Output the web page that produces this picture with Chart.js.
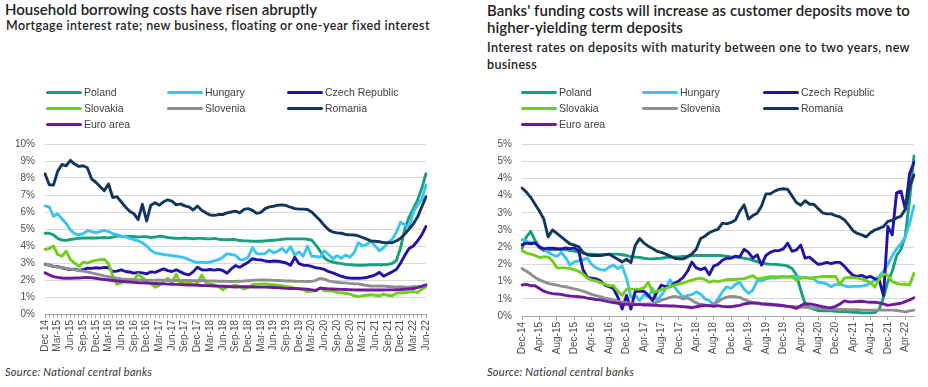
<!DOCTYPE html>
<html><head><meta charset="utf-8">
<script src="https://cdn.jsdelivr.net/npm/chart.js@4.4.1/dist/chart.umd.min.js"></script>
<style>
html,body{margin:0;padding:0;background:#fff;}
#root{position:relative;width:928px;height:387px;overflow:hidden;font-family:Lato,"Open Sans",sans-serif;color:#222;}
.t{position:absolute;white-space:nowrap;}
.t span{display:inline-block;}
.title{font-size:15px;font-weight:600;line-height:17px;}
.sub{font-size:12.5px;font-weight:600;line-height:17.7px;}
.src{font-size:11px;font-style:italic;line-height:13px;color:#333;}
.leg{position:absolute;font-family:"Liberation Sans",Arial,sans-serif;font-size:10.5px;color:#404040;line-height:12px;height:12px;white-space:nowrap;}
.leg i{position:absolute;left:0;top:4.5px;width:36px;height:3px;border-radius:2px;}
.leg span{position:absolute;left:38px;top:0;}
canvas{position:absolute;}
</style></head>
<body><div id="root">
<div class="t title" style="left:5px;top:1px;"><span data-w="312">Household borrowing costs have risen abruptly</span></div>
<div class="t sub" style="left:6px;top:16.6px;"><span data-w="424">Mortgage interest rate; new business, floating or one-year fixed interest</span></div>
<div class="t title" style="left:487px;top:2.4px;"><span data-w="423">Banks' funding costs will increase as customer deposits move to</span><br><span data-w="196">higher-yielding term deposits</span></div>
<div class="t sub" style="left:487px;top:38.6px;"><span data-w="423">Interest rates on deposits with maturity between one to two years, new</span><br><span data-w="50">business</span></div>
<div class="t src" style="left:5px;top:365px;"><span data-w="147">Source: National central banks</span></div>
<div class="t src" style="left:487px;top:365px;"><span data-w="147">Source: National central banks</span></div>
<canvas id="cL" width="440" height="232" style="left:0px;top:128px;"></canvas>
<canvas id="cR" width="464" height="232" style="left:464px;top:128px;"></canvas>
</div>
<script>
// ---------- DATA ----------
const seriesNames = ['Poland','Hungary','Czech Republic','Slovakia','Slovenia','Romania','Euro area'];
const seriesColors = ['#17a07e','#3cc3ef','#2213a8','#6fcf1a','#8f8f8f','#12365e','#6f1a9e'];

const MONTHS = ['Jan','Feb','Mar','Apr','May','Jun','Jul','Aug','Sep','Oct','Nov','Dec'];
function monthLabels(sep){const out=[];for(let i=0;i<91;i++){const mi=(11+i)%12;const yr=14+Math.floor((11+i)/12);out.push(MONTHS[mi]+sep+yr);}return out;}
const leftLabels = monthLabels('-'); leftLabels[0] = 'Dec 14';
const rightLabels = monthLabels('-');

const leftYTicks = [0,1,2,3,4,5,6,7,8,9,10];
const rightYTicks = [0,0.5,1,1.5,2,2.5,3,3.5,4,4.5,5];

// Left chart: mortgage interest rate (%)
const leftPoland = [4.75,4.75,4.65,4.45,4.35,4.33,4.38,4.42,4.45,4.47,4.47,4.48,4.47,4.48,4.5,4.48,4.52,4.6,4.57,4.55,4.57,4.55,4.52,4.55,4.55,4.5,4.53,4.58,4.55,4.5,4.47,4.45,4.45,4.47,4.45,4.43,4.45,4.45,4.43,4.42,4.45,4.4,4.38,4.37,4.38,4.38,
4.32,4.3,4.3,4.28,4.28,4.28,4.3,4.32,4.34,4.36,4.4,4.42,4.42,4.42,4.42,4.42,4.4,4.34,4.05,3.7,3.3,3.12,3.06,3.0,2.96,2.92,2.9,2.88,2.87,2.87,2.88,2.9,2.9,2.9,2.9,2.92,2.97,3.15,3.9,5.0,5.7,6.2,6.7,7.4,8.25];
const leftHungary = [6.36,6.3,5.75,5.89,5.6,5.32,4.95,4.72,4.66,4.72,4.9,4.85,4.78,4.85,4.92,4.85,4.72,4.66,4.6,4.55,4.45,4.38,4.3,4.19,4.0,3.75,3.6,3.55,3.5,3.47,3.43,3.4,3.36,3.3,3.2,3.1,3.03,3.05,3.02,3.06,3.12,3.2,3.34,3.55,3.5,3.45,
3.2,3.2,3.34,3.9,3.55,3.53,3.55,3.77,3.6,3.7,3.85,3.62,3.96,3.47,3.66,3.4,4.0,3.4,3.38,3.34,3.72,3.5,3.25,3.43,3.28,3.47,3.34,3.6,4.19,4.0,4.1,4.28,4.0,3.72,3.9,4.2,4.4,4.8,5.4,5.25,5.1,6.0,6.4,6.75,7.6];
const leftCzech = [2.92,2.88,2.8,2.78,2.72,2.66,2.62,2.64,2.56,2.6,2.7,2.68,2.72,2.7,2.74,2.72,2.5,2.52,2.6,2.5,2.47,2.4,2.45,2.42,2.36,2.48,2.45,2.55,2.65,2.55,2.5,2.6,2.48,2.36,2.3,2.48,2.75,2.6,2.58,2.62,2.58,2.62,2.56,2.4,2.65,2.85,
2.75,2.9,3.05,3.25,3.2,3.18,3.12,3.09,3.12,3.1,3.06,3.0,2.87,3.34,2.96,2.87,2.86,2.8,2.72,2.68,2.62,2.49,2.42,2.32,2.22,2.15,2.11,2.1,2.1,2.12,2.15,2.22,2.3,2.45,2.22,2.35,2.48,2.62,3.0,3.45,3.85,4.0,4.3,4.65,5.15];
const leftSlovakia = [3.8,3.85,4.0,3.5,3.4,3.7,3.2,3.0,2.8,3.05,3.0,3.1,3.15,3.2,3.22,2.95,2.25,1.75,1.85,1.95,2.05,2.0,2.35,2.15,1.95,1.8,1.58,1.7,1.9,2.1,1.85,2.35,1.75,1.9,1.85,1.75,1.8,2.3,1.85,1.75,1.72,1.6,1.42,1.58,1.65,1.7,
1.6,1.48,1.55,1.72,1.75,1.76,1.77,1.74,1.72,1.7,1.66,1.62,1.58,1.52,1.47,1.42,1.32,1.33,1.4,1.55,1.36,1.38,1.35,1.27,1.25,1.22,1.17,1.08,1.02,1.07,1.1,1.13,1.1,1.07,1.17,1.1,1.07,1.22,1.26,1.25,1.3,1.32,1.28,1.45,1.6];
const leftSlovenia = [2.95,2.88,2.82,2.76,2.72,2.68,2.64,2.6,2.56,2.52,2.48,2.42,2.36,2.3,2.24,2.19,2.14,2.1,2.06,2.04,2.02,2.01,2.0,1.99,1.98,1.99,1.98,2.0,1.98,1.97,1.98,1.97,1.96,1.97,1.97,1.96,1.96,1.97,1.95,1.94,1.94,1.93,1.93,1.92,1.91,1.92,
1.93,1.94,1.96,1.98,1.99,2.0,2.0,1.99,1.98,1.97,1.96,1.95,1.94,1.93,1.92,1.92,1.91,1.92,1.98,2.1,2.05,1.95,1.9,1.87,1.84,1.83,1.8,1.78,1.77,1.72,1.68,1.65,1.64,1.65,1.64,1.62,1.6,1.58,1.6,1.58,1.58,1.6,1.6,1.63,1.68];
const leftRomania = [8.25,7.6,7.58,8.4,8.8,8.72,9.04,8.82,8.68,8.72,8.6,7.95,7.75,7.5,7.25,7.65,6.85,6.9,6.6,6.3,6.05,5.9,5.55,6.45,5.47,6.4,6.55,6.4,6.6,6.72,6.64,6.42,6.48,6.36,6.3,6.12,6.35,6.1,5.95,5.82,5.8,5.85,5.85,5.95,6.0,6.05,
5.95,6.15,6.2,6.1,5.92,5.98,6.2,6.3,6.34,6.4,6.42,6.38,6.28,6.2,6.17,6.17,6.15,6.0,5.75,5.5,5.2,4.95,4.82,4.77,4.75,4.68,4.66,4.65,4.6,4.5,4.4,4.3,4.28,4.25,4.2,4.2,4.19,4.3,4.45,4.7,5.0,5.3,5.7,6.3,6.9];
const leftEuro = [2.42,2.3,2.2,2.15,2.12,2.1,2.1,2.12,2.12,2.14,2.15,2.13,2.1,2.06,2.03,2.0,1.97,1.94,1.92,1.9,1.88,1.86,1.84,1.83,1.82,1.8,1.79,1.78,1.77,1.76,1.75,1.74,1.73,1.72,1.71,1.7,1.69,1.68,1.67,1.66,1.65,1.64,1.63,1.62,1.6,1.59,
1.6,1.6,1.6,1.59,1.58,1.58,1.58,1.57,1.56,1.55,1.53,1.51,1.5,1.5,1.49,1.48,1.46,1.42,1.38,1.52,1.5,1.48,1.47,1.46,1.45,1.44,1.43,1.42,1.41,1.41,1.41,1.41,1.41,1.41,1.41,1.42,1.42,1.43,1.44,1.46,1.48,1.5,1.55,1.62,1.72];

// Right chart: deposit rates 1-2 years (%)
const rightPoland = [1.96,2.3,2.46,2.2,1.99,1.9,1.92,1.94,1.93,1.93,1.93,1.9,1.89,1.86,1.83,1.8,1.8,1.79,1.78,1.78,1.8,1.8,1.8,1.78,1.76,1.72,1.71,1.7,1.68,1.66,1.66,1.67,1.68,1.7,1.71,1.72,1.72,1.73,1.74,1.75,1.76,1.76,1.76,1.76,1.76,1.76,1.75,1.74,1.72,1.71,1.7,1.68,1.66,1.62,1.58,1.54,1.52,1.5,1.5,1.49,1.48,1.45,1.38,1.2,0.75,0.35,0.25,0.2,0.16,0.15,0.15,0.15,0.14,0.13,0.12,0.12,0.11,0.1,0.09,0.09,0.09,0.1,0.2,0.54,1.0,1.3,1.75,1.94,2.32,3.4,4.65];
const rightHungary = [2.22,2.18,2.13,2.12,2.03,1.95,1.85,1.78,1.73,1.85,1.7,1.48,1.57,1.6,1.64,1.68,1.5,1.4,1.35,1.33,1.42,1.48,1.38,1.45,1.1,0.55,0.6,0.45,0.62,0.55,0.8,0.45,0.6,0.8,1.05,0.85,0.68,0.55,0.6,0.62,0.7,0.64,0.5,0.45,0.33,0.5,0.7,0.85,0.8,0.92,0.98,0.78,0.66,0.75,1.02,1.02,1.08,1.1,1.1,1.12,1.15,1.13,1.15,1.15,1.13,1.12,1.1,1.08,0.98,0.97,0.93,0.85,0.92,0.92,0.88,0.85,0.86,0.86,0.87,0.9,0.95,1.05,1.15,1.3,1.5,1.75,1.95,2.1,2.3,2.7,3.2];
const rightCzech = [2.07,2.12,2.1,2.13,2.0,1.95,1.97,1.97,1.96,1.95,1.98,1.96,1.98,1.9,1.35,1.12,1.1,1.08,1.02,0.9,0.85,0.8,0.55,0.2,0.6,0.2,0.72,0.72,0.72,0.6,0.45,0.7,0.9,0.85,0.85,0.95,1.02,1.12,1.3,1.57,1.4,1.35,1.4,1.2,1.45,1.5,1.62,1.68,1.68,1.74,1.72,1.94,1.85,1.68,1.78,1.48,1.76,1.85,1.9,1.9,1.95,2.12,1.88,1.92,2.06,1.68,1.71,1.6,1.5,1.52,1.56,1.52,1.56,1.56,1.45,1.3,1.18,1.15,1.18,1.12,1.15,1.08,1.05,0.59,2.6,2.36,3.58,3.63,3.11,4.14,4.47];
const rightSlovakia = [1.9,1.83,1.8,1.76,1.7,1.72,1.72,1.6,1.4,1.4,1.4,1.38,1.35,1.3,1.22,1.1,1.05,1.02,0.97,0.92,0.88,0.88,0.72,0.6,0.78,0.78,0.78,0.78,0.82,0.98,0.7,0.72,0.76,0.8,0.86,0.9,0.93,0.96,1.0,1.04,1.08,1.1,1.06,0.98,1.02,1.0,1.03,1.06,1.06,1.06,1.08,1.08,1.13,1.17,1.08,1.1,1.12,1.14,1.14,1.14,1.13,1.13,1.14,1.04,1.1,1.12,1.1,1.12,1.13,1.15,1.15,1.15,1.15,0.92,1.1,1.12,1.11,1.1,1.08,1.03,0.98,0.84,1.08,1.22,1.18,1.0,0.95,0.92,0.93,0.9,1.24];
const rightSlovenia = [1.38,1.3,1.22,1.12,1.05,1.0,0.95,0.92,0.9,0.87,0.85,0.82,0.79,0.76,0.72,0.68,0.63,0.59,0.56,0.52,0.5,0.46,0.43,0.4,0.38,0.36,0.35,0.34,0.34,0.35,0.36,0.4,0.46,0.5,0.54,0.57,0.55,0.5,0.53,0.46,0.38,0.34,0.32,0.3,0.33,0.42,0.5,0.55,0.57,0.56,0.54,0.48,0.43,0.39,0.36,0.34,0.33,0.32,0.31,0.3,0.29,0.28,0.28,0.27,0.26,0.25,0.24,0.24,0.23,0.22,0.21,0.2,0.2,0.19,0.19,0.18,0.18,0.18,0.17,0.17,0.17,0.17,0.17,0.17,0.17,0.17,0.16,0.14,0.12,0.15,0.17];
const rightRomania = [3.72,3.6,3.45,3.25,3.05,2.82,2.3,2.5,2.4,2.3,2.2,2.1,2.06,2.02,1.85,1.78,1.76,1.76,1.76,1.78,1.8,1.72,1.65,1.57,1.65,1.55,2.05,2.25,2.12,2.03,1.96,1.88,1.85,1.8,1.74,1.68,1.66,1.66,1.72,1.8,1.94,2.25,2.32,2.42,2.48,2.52,2.7,2.68,2.72,2.79,3.05,3.23,2.82,2.92,2.99,3.2,3.55,3.55,3.63,3.68,3.7,3.68,3.49,3.3,3.22,3.35,3.25,3.25,3.12,3.0,2.97,2.97,2.92,2.88,2.8,2.65,2.48,2.4,2.36,2.3,2.42,2.5,2.55,2.6,2.75,2.78,2.85,2.9,3.1,3.75,4.1];
const rightEuro = [0.9,0.92,0.88,0.88,0.8,0.72,0.68,0.65,0.64,0.63,0.6,0.58,0.57,0.56,0.55,0.52,0.5,0.48,0.47,0.44,0.41,0.39,0.37,0.35,0.34,0.33,0.33,0.33,0.32,0.32,0.31,0.31,0.3,0.3,0.29,0.29,0.28,0.27,0.26,0.24,0.27,0.29,0.31,0.3,0.28,0.3,0.28,0.27,0.27,0.29,0.31,0.35,0.37,0.38,0.38,0.36,0.35,0.34,0.33,0.32,0.3,0.28,0.26,0.22,0.3,0.36,0.35,0.33,0.3,0.27,0.25,0.24,0.28,0.35,0.44,0.41,0.41,0.42,0.43,0.41,0.4,0.4,0.38,0.35,0.31,0.33,0.35,0.37,0.42,0.47,0.53];

const leftSeries = [leftPoland,leftHungary,leftCzech,leftSlovakia,leftSlovenia,leftRomania,leftEuro];
const rightSeries = [rightPoland,rightHungary,rightCzech,rightSlovakia,rightSlovenia,rightRomania,rightEuro];

// ---------- TEXT FITTING ----------
document.querySelectorAll('[data-w]').forEach(el=>{
  const target=parseFloat(el.dataset.w);
  const w=el.getBoundingClientRect().width;
  const n=el.textContent.length;
  el.style.letterSpacing=((target-w)/n).toFixed(3)+'px';
});

// ---------- LEGENDS ----------
function buildLegend(xs, ys){
  const root=document.getElementById('root');
  seriesNames.forEach((name,i)=>{
    const d=document.createElement('div');
    d.className='leg';
    d.style.left=xs[i%3]+'px';
    d.style.top=(ys[Math.floor(i/3)]-6)+'px';
    d.innerHTML='<i style="background:'+seriesColors[i]+'"></i><span>'+name+'</span>';
    root.appendChild(d);
  });
}
buildLegend([46,167,287],[92,108,124]);
buildLegend([521,642,763],[92,108,124]);

// ---------- CHARTS ----------
Chart.defaults.font.family='"Liberation Sans", Arial, sans-serif';
function makeChart(id, labels, series, yTicks, yFmt, every, pad, yW, xH, allTicks){
  const datasets=series.map((d,i)=>({
    label:seriesNames[i], data:d, borderColor:seriesColors[i], backgroundColor:seriesColors[i],
    borderWidth:2.9, pointRadius:0, tension:0, fill:false,
    borderJoinStyle:'round', borderCapStyle:'round', order:series.length-1-i
  }));
  return new Chart(document.getElementById(id),{
    type:'line',
    data:{labels, datasets},
    options:{
      responsive:false, animation:false, devicePixelRatio:1,
      layout:{padding:pad},
      plugins:{legend:{display:false}, tooltip:{enabled:false}, title:{display:false}},
      scales:{
        x:{
          type:'category',
          afterFit:s=>{s.height=xH;},
          grid:{display:true, drawOnChartArea:false, drawTicks:true, tickLength:4,
                tickColor:c=> (allTicks || c.index%every===0) ? '#a6a6a6' : 'rgba(0,0,0,0)', color:'#a6a6a6'},
          border:{display:true, color:'#a6a6a6', width:1},
          ticks:{autoSkip:false, maxRotation:90, minRotation:90, padding:2, color:'#505050',
                 font:{size:10}, callback:(v,i)=> i%every===0 ? labels[i] : ''}
        },
        y:{
          min:yTicks[0], max:yTicks[yTicks.length-1],
          afterFit:s=>{s.width=yW;},
          afterBuildTicks:s=>{s.ticks=yTicks.map(v=>({value:v}));},
          grid:{color:'#d9d9d9', drawTicks:false, lineWidth:1},
          border:{display:false},
          ticks:{padding:10, color:'#505050', font:{size:10}, callback:yFmt}
        }
      }
    }
  });
}
makeChart('cL', leftLabels, leftSeries, leftYTicks, v=>v+'%', 3, {top:9,right:10,left:0,bottom:0}, 45, 46, true);
makeChart('cR', rightLabels, rightSeries, rightYTicks, v=>Math.round(v)+'%', 4, {top:10,right:12,left:0,bottom:0}, 58, 44, false);
</script>
</body></html>
